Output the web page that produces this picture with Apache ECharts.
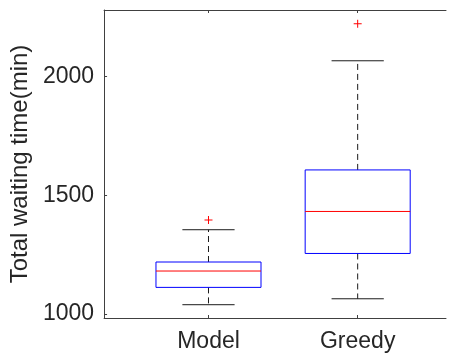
<!DOCTYPE html>
<html><head><meta charset="utf-8">
<script src="https://cdn.jsdelivr.net/npm/echarts@6/dist/echarts.min.js"></script>
<style>html,body{margin:0;padding:0;background:#fff;overflow:hidden}#c{width:454px;height:355px}</style>
</head><body><div id="c"></div>
<script>
var categories = ['Model', 'Greedy'];
var positions = [1, 2];
// [lower whisker, q1, median, q3, upper whisker]
var modelStats = [1039, 1112, 1181, 1219, 1355];
var greedyStats = [1064, 1255, 1432, 1607, 2067];
var modelOutliers = [1396];
var greedyOutliers = [2223];
var yTicks = [1000, 1500, 2000];

var boxData = [[positions[0]].concat(modelStats), [positions[1]].concat(greedyStats)];
var outData = [];
modelOutliers.forEach(function(v){ outData.push([positions[0], v]); });
greedyOutliers.forEach(function(v){ outData.push([positions[1], v]); });

var BOX_HALF = 0.352, CAP_HALF = 0.175;
var FONT = '"Liberation Sans", Arial, sans-serif';

function renderBox(params, api) {
  var x = api.value(0);
  var lo = api.value(1), q1 = api.value(2), med = api.value(3), q3 = api.value(4), hi = api.value(5);
  var pL = api.coord([x - BOX_HALF, q3]);
  var pR = api.coord([x + BOX_HALF, q1]);
  var pC_lo = api.coord([x, lo]), pC_q1 = api.coord([x, q1]), pC_q3 = api.coord([x, q3]), pC_hi = api.coord([x, hi]);
  var cL = api.coord([x - CAP_HALF, lo])[0], cR = api.coord([x + CAP_HALF, lo])[0];
  var mL = api.coord([x - BOX_HALF, med]), mR = api.coord([x + BOX_HALF, med]);
  var black = '#1a1a1a';
  return {type: 'group', children: [
      {type:'line', shape:{x1:pC_q3[0], y1:pC_q3[1], x2:pC_hi[0], y2:pC_hi[1]}, style:{stroke:black, lineWidth:1, lineDash:[6,4]}},
      {type:'line', shape:{x1:pC_q1[0], y1:pC_q1[1], x2:pC_lo[0], y2:pC_lo[1]}, style:{stroke:black, lineWidth:1, lineDash:[6,4]}},
      {type:'line', shape:{x1:cL, y1:pC_hi[1], x2:cR, y2:pC_hi[1]}, style:{stroke:black, lineWidth:1}},
      {type:'line', shape:{x1:cL, y1:pC_lo[1], x2:cR, y2:pC_lo[1]}, style:{stroke:black, lineWidth:1}},
      {type:'rect', shape:{x:pL[0], y:pL[1], width:pR[0]-pL[0], height:pR[1]-pL[1]}, style:{stroke:'#0000ff', fill:'none', lineWidth:1}},
      {type:'line', shape:{x1:mL[0], y1:mL[1], x2:mR[0], y2:mR[1]}, style:{stroke:'#ff0000', lineWidth:1}}
  ]};
}
function renderOut(params, api) {
  var p = api.coord([api.value(0), api.value(1)]);
  var s = 4;
  return {type:'group', children:[
      {type:'line', shape:{x1:p[0]-s, y1:p[1], x2:p[0]+s, y2:p[1]}, style:{stroke:'#ff0000', lineWidth:1}},
      {type:'line', shape:{x1:p[0], y1:p[1]-s, x2:p[0], y2:p[1]+s}, style:{stroke:'#ff0000', lineWidth:1}}
  ]};
}

var chart = echarts.init(document.getElementById('c'), null, {renderer:'canvas'});
chart.setOption({
  animation: false,
  backgroundColor: '#fff',
  grid: {left: 102, top: 10, right: 8, bottom: 37, containLabel: false},
  xAxis: [
    {type:'value', min:0.3, max:2.592, position:'bottom',
     axisLine:{show:true, lineStyle:{color:'#404040', width:1}},
     axisTick:{show:true, inside:true, length:3, customValues:positions, lineStyle:{color:'#404040'}},
     axisLabel:{show:true, customValues:positions, formatter:function(v){ return categories[positions.indexOf(v)] || ''; },
       color:'#262626', fontSize:23, fontFamily:FONT, margin:12},
     splitLine:{show:false}},
    {type:'value', min:0.3, max:2.592, position:'top',
     axisLine:{show:true, lineStyle:{color:'#404040', width:1}},
     axisTick:{show:true, inside:true, length:3, customValues:positions, lineStyle:{color:'#404040'}},
     axisLabel:{show:false}, splitLine:{show:false}}
  ],
  yAxis: {
    type:'value', min:983, max:2281,
    name:'Total waiting time(min)', nameLocation:'middle', nameGap:66,
    nameTextStyle:{color:'#262626', fontSize:24, fontFamily:FONT},
    axisLine:{show:true, lineStyle:{color:'#404040', width:1}},
    axisTick:{show:true, inside:true, length:3, customValues:yTicks, lineStyle:{color:'#404040'}},
    axisLabel:{show:true, customValues:yTicks, formatter:function(v){ return String(v); }, color:'#262626', fontSize:23, fontFamily:FONT, margin:10},
    splitLine:{show:false}
  },
  series: [
    {type:'custom', xAxisIndex:0, renderItem:renderBox, data:boxData, encode:{x:0, y:[1,2,3,4,5]}, silent:true},
    {type:'custom', xAxisIndex:0, renderItem:renderOut, data:outData, encode:{x:0, y:1}, silent:true}
  ]
});
</script></body></html>
